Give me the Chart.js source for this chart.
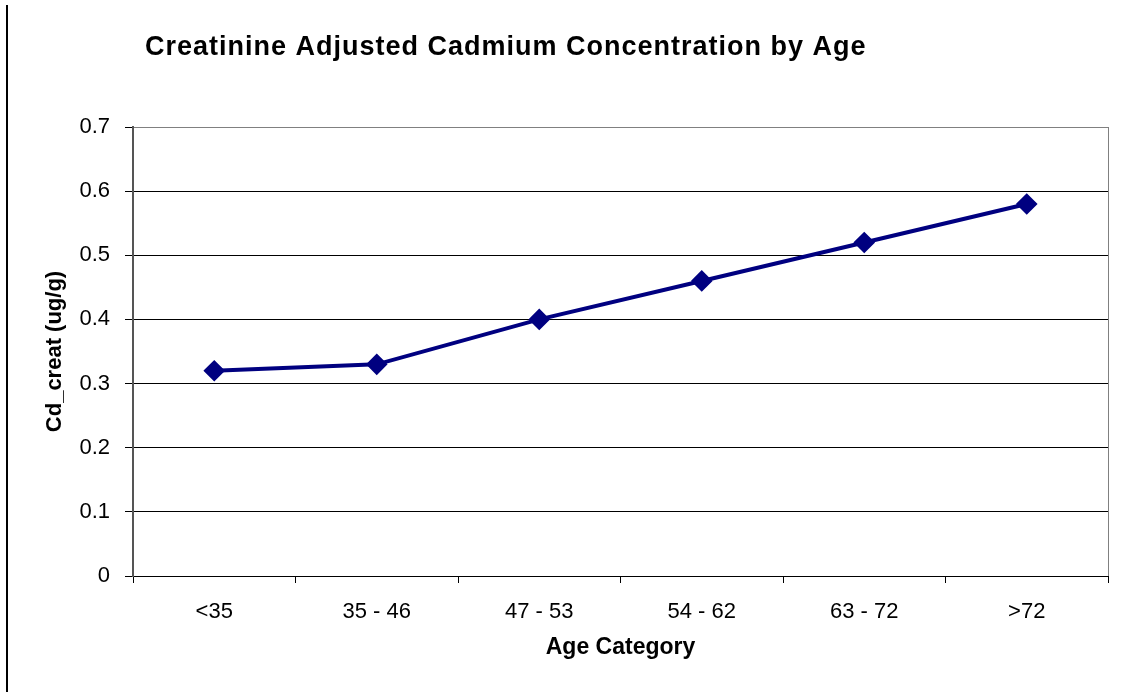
<!DOCTYPE html>
<html>
<head>
<meta charset="utf-8">
<script src="https://cdn.jsdelivr.net/npm/chart.js@4"></script>
<style>
	body { margin: 0; background: #fff; }
	canvas { display: block; }
</style>
</head>
<body>
<canvas id="myChart" width="1123" height="692"></canvas>
<script>
//data
let categories = ['<35', '35 - 46', '47 - 53', '54 - 62', '63 - 72', '>72']
let cdCreat = [0.32, 0.33, 0.40, 0.46, 0.52, 0.58]
let yMin = 0, yMax = 0.7, yStep = 0.1

let chartTitle = 'Creatinine Adjusted Cadmium Concentration by Age'
let xTitle = 'Age Category'
let yTitle = 'Cd_creat (ug/g)'

let fontFamily = '"Liberation Sans", Arial, sans-serif'

//title + the thin frame line on the left edge, like the original slide
let decorations = {
	id: 'decorations',
	beforeDraw(chart) {
		let ctx = chart.ctx
		ctx.save()
		ctx.fillStyle = '#fff'
		ctx.fillRect(0, 0, chart.width, chart.height)
		ctx.fillStyle = '#000'
		ctx.fillRect(6, 5, 2, chart.height - 5)
		ctx.font = 'bold 27px ' + fontFamily
		if ('letterSpacing' in ctx) ctx.letterSpacing = '1px'
		ctx.textBaseline = 'alphabetic'
		ctx.fillText(chartTitle, 145, 55)
		ctx.restore()
	}
}

let data = {
	labels: categories,
	datasets: [
		{
			data: cdCreat,
			borderColor: '#000080',
			backgroundColor: '#000080',
			borderWidth: 4,
			pointStyle: 'rectRot',
			pointRadius: 8,
			pointBackgroundColor: '#000080',
			pointBorderColor: '#000080',
			tension: 0
		}
	]
}

let config = {
	type: 'line',
	data: data,
	options: {
		responsive: false,
		animation: false,
		layout: {
			padding: { left: 40, right: 15, top: 127, bottom: 20 }
		},
		plugins: {
			legend: { display: false },
			tooltip: { enabled: false }
		},
		scales: {
			x: {
				offset: true,
				grid: {
					offset: true,
					drawOnChartArea: true,
					//only the right-hand frame line, the rest is just ticks
					color: (c) => (c.type === 'scale' ? '#808080' : 'rgba(0,0,0,0)'),
					tickColor: '#000',
					tickLength: 7,
					lineWidth: 1
				},
				border: { color: '#000', width: 1 },
				ticks: {
					color: '#000',
					font: { family: fontFamily, size: 22 },
					padding: 16,
					maxRotation: 0,
					autoSkip: false
				},
				title: {
					display: true,
					text: xTitle,
					color: '#000',
					font: { family: fontFamily, size: 23, weight: 'bold' },
					padding: { top: 0, bottom: 11 }
				},
				afterFit: (scale) => {
					scale.height = 96
				}
			},
			y: {
				min: yMin,
				max: yMax,
				grid: {
					color: (c) => (c.tick && Math.abs(c.tick.value - yMax) < 1e-9 ? '#808080' : '#000'),
					tickColor: '#000',
					tickLength: 8,
					lineWidth: 1
				},
				border: { color: '#555', width: 2 },
				ticks: {
					stepSize: yStep,
					color: '#000',
					font: { family: fontFamily, size: 22 },
					padding: 15,
					callback: (value) => String(+value.toFixed(1))
				},
				title: {
					display: true,
					text: yTitle,
					color: '#000',
					font: { family: fontFamily, size: 22, weight: 'bold' },
					padding: { top: 2, bottom: 0 }
				},
				afterFit: (scale) => {
					scale.width = 93
				}
			}
		}
	},
	plugins: [decorations]
}

let chart = new Chart(document.getElementById('myChart').getContext('2d'), config)
</script>
</body>
</html>
